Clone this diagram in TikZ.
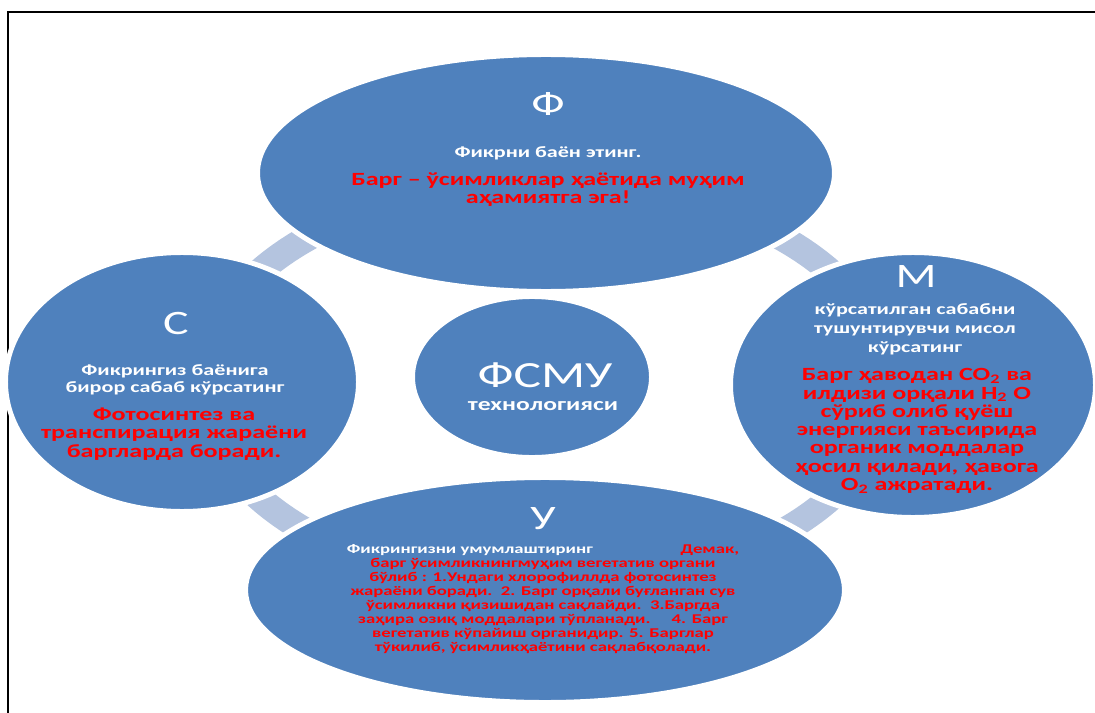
\documentclass[tikz,border=0pt]{standalone}
\usepackage{fontspec}
\setmainfont{Carlito}[FakeStretch=1.4]
\usetikzlibrary{shapes.geometric}

\definecolor{petalblue}{RGB}{79,129,189}
\definecolor{ringblue}{RGB}{180,196,223}
\definecolor{notered}{RGB}{255,0,0}

\begin{document}
\begin{tikzpicture}[
    x=0.02cm, y=-0.02cm,
    petal/.style={ellipse, fill=petalblue, draw=white, line width=2.8pt, inner sep=0pt},
    link/.style={draw=ringblue, line width=15pt},
    letter/.style={text=white, inner sep=0pt, font=\fontsize{19.5}{20}\selectfont},
    head/.style={text=white, inner sep=0pt, align=center, font=\bfseries\fontsize{9}{9.4}\selectfont},
    note/.style={text=notered, inner sep=0pt, align=center, font=\bfseries\fontsize{10.6}{10.4}\selectfont},
    frame/.style={draw=black, line width=1.2pt},
]
\useasboundingbox (0,0) rectangle (1095,713);

% ---- frame ----
\draw[frame] (8,740) -- (8,12) -- (1120,12);

% ---- ring segments between the petals ----
\coordinate (hub) at (545,385);
\foreach \s/\e in {-160/-120, -60/-20, 20/60, 120/160} {
  \draw[link] (hub) ++(\s:344 and 203) arc[start angle=\s, end angle=\e, x radius=344, y radius=203];
}

% ---- petals ----
\foreach \n/\x/\y/\w/\h in {F/546/173/11.54/4.74, S/182/382/7.06/5.18, M/913/385/7.3/5.3, U/545/590/11.98/4.5} {
  \node[petal, minimum width=\w cm, minimum height=\h cm] (\n) at (\x,\y) {};
}
\node[petal, minimum width=4.78cm, minimum height=3.22cm] (core) at (532,377) {};

% ---- Ф ----
\node[letter] (F-l) at (548,104) {Ф};
\node[head] (F-h) at (548,153) {Фикрни баён этинг.};
\node[note, font=\bfseries\fontsize{10.6}{10.2}\selectfont] (F-t) at (548,190) {Барг – ўсимликлар ҳаётида муҳим\\аҳамиятга эга!};

% ---- С ----
\node[letter] (S-l) at (176,323) {С};
\node[head] (S-h) at (175,380) {Фикрингиз баёнига\\бирор сабаб кўрсатинг};
\node[note] (S-t) at (174,434) {Фотосинтез ва\\транспирация жараёни\\баргларда боради.};

% ---- М ----
\node[letter] (M-l) at (916,277) {М};
\node[head, font=\bfseries\fontsize{9}{10.8}\selectfont] (M-h) at (915,329) {кўрсатилган сабабни\\тушунтирувчи мисол\\кўрсатинг};
\node[note] (M-t) at (917,431) {Барг ҳаводан CO\textsubscript{2} ва\\илдизи орқали H\textsubscript{2} O\\сўриб олиб қуёш\\энергияси таъсирида\\органик моддалар\\ҳосил қилади, ҳавога\\O\textsubscript{2} ажратади.};

% ---- У ----
\node[letter] (U-l) at (543,519) {У};
\node[note, font=\bfseries\fontsize{7.6}{8}\selectfont] (U-t) at (543,599) {{\color{white}Фикрингизни умумлаштиринг}\hspace{50pt}Демак,\\
  барг ўсимликнингмуҳим вегетатив органи\\
  бўлиб : 1.Ундаги хлорофиллда фотосинтез\\
  жараёни боради.\ \ 2. Барг орқали буғланган сув\\
  ўсимликни қизишидан сақлайди.\ \ 3.Баргда\\
  заҳира озиқ моддалари тўпланади.\hspace{12pt}4. Барг\\
  вегетатив кўпайиш органидир. 5. Барглар\\
  тўкилиб, ўсимликҳаётини сақлабқолади.};

% ---- centre ----
\node[text=white, inner sep=0pt, font=\fontsize{21}{22}\selectfont] (core-l) at (545,375) {ФСМУ};
\node[text=white, inner sep=0pt, font=\bfseries\fontsize{10.4}{11}\selectfont] (core-h) at (543,406) {технологияси};

\end{tikzpicture}
\end{document}
